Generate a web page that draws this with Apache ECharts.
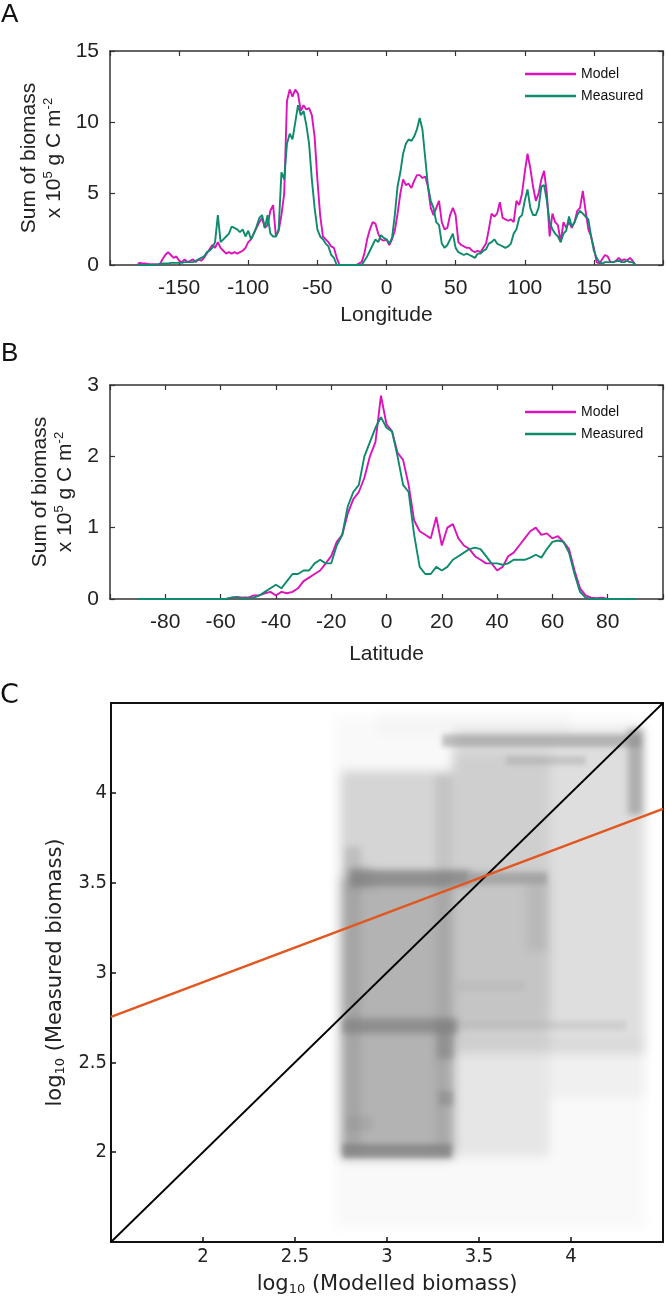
<!DOCTYPE html>
<html>
<head>
<meta charset="utf-8">
<script src="https://cdn.jsdelivr.net/npm/echarts@6/dist/echarts.min.js"></script>
<style>
html,body{margin:0;padding:0;background:#fff;}
#chart{width:666px;height:1299px;}
</style>
</head>
<body>
<div id="chart"></div>
<script>
// ---------- Panel A: longitude profile ----------
const lonA = [
 -180,-178,-176,-174,-172,-170,-168,-166,-164,-162,
 -160,-158,-156,-154,-152,-150,-148,-146,-144,-142,
 -140,-138,-136,-134,-132,-130,-128,-126,-124,-122,
 -120,-118,-116,-114,-112,-110,-108,-106,-104,-102,
 -100,-98,-96,-94,-92,-90,-88,-86,-84,-82,
 -80,-78,-76,-74,-72,-70,-68,-66,-64,-62,
 -60,-58,-56,-54,-52,-50,-48,-46,-44,-42,
 -40,-38,-36,-34,-32,-30,-28,-26,-24,-22,
 -20,-18,-16,-14,-12,-10,-8,-6,-4,-2,
 0,2,4,6,8,10,12,14,16,18,
 20,22,24,26,28,30,32,34,36,38,
 40,42,44,46,48,50,52,54,56,58,
 60,62,64,66,68,70,72,74,76,78,
 80,82,84,86,88,90,92,94,96,98,
 100,102,104,106,108,110,112,114,116,118,
 120,122,124,126,128,130,132,134,136,138,
 140,142,144,146,148,150,152,154,156,158,
 160,162,164,166,168,170,172,174,176,178,
 180];
const modelA = [
 0.1,0.15,0.1,0.1,0.05,0.05,0.05,0,0.05,0.4,
 0.7,0.9,0.7,0.5,0.6,0.3,0.2,0.4,0.2,0.3,
 0.4,0.2,0.4,0.3,0.5,0.8,1.1,1.4,1.2,1.6,
 1.2,1.0,0.8,0.9,0.8,0.9,0.8,0.9,1.0,1.2,
 1.6,1.8,2.2,2.6,3.0,3.3,2.6,2.8,3.8,4.2,
 2.0,2.4,3.5,5.0,11.5,12.3,11.8,12.3,12.0,10.8,
 11.2,10.9,11.0,10.5,9.0,6.0,3.5,2.0,1.8,1.6,
 1.3,1.2,0.5,0,0,0,0,0,0,0,
 0.1,0.2,0.8,1.8,2.5,3.0,2.9,2.2,1.8,1.7,
 1.8,1.4,1.8,2.4,3.6,5.0,6.0,5.6,5.7,5.4,
 5.9,6.3,6.3,6.1,6.2,5.5,4.0,3.5,4.0,4.5,
 3.0,2.5,2.6,3.5,4.0,3.5,1.6,1.4,1.3,1.2,
 1.2,1.0,0.9,1.0,0.9,1.2,1.5,2.5,3.6,3.4,
 3.6,4.4,3.3,3.2,3.1,3.2,3.0,4.5,4.2,5.0,
 6.5,7.8,6.8,5.5,4.5,5.0,6.0,6.6,5.0,2.0,
 3.6,3.0,2.8,1.6,3.0,2.6,3.0,2.6,3.0,3.8,
 4.0,5.2,3.8,2.5,2.0,1.2,0.2,0.1,0.4,0.7,
 0.6,0.2,0.2,0.3,0.5,0.3,0.4,0.3,0.5,0.3,
 0];
const measuredA = [
 0,0,0,0,0,0,0,0.05,0.05,0.1,
 0.1,0.1,0.15,0.15,0.15,0.15,0.15,0.2,0.2,0.2,
 0.2,0.3,0.4,0.5,0.6,0.9,1.0,1.2,1.6,3.5,
 1.6,1.8,2.0,2.2,2.7,2.6,2.5,2.3,2.5,2.0,
 2.4,1.8,2.2,2.7,3.3,3.5,2.6,3.5,2.2,2.0,
 2.0,2.5,6.5,6.0,8.5,9.2,8.8,10.0,11.2,10.5,
 10.8,9.8,8.5,6.0,4.0,2.5,2.0,1.8,1.5,1.3,
 0.7,0.5,0,0,0,0,0,0,0,0,
 0,0,0.3,0.6,1.0,1.4,1.8,1.6,2.1,1.9,
 1.8,1.5,1.9,3.5,5.5,6.5,7.8,8.5,8.8,8.7,
 9.0,9.5,10.3,9.5,7.5,5.5,4.5,4.0,3.0,2.8,
 1.5,1.2,1.4,1.8,2.2,1.2,0.9,0.8,0.7,0.8,
 0.7,0.6,0.5,0.8,0.8,1.0,1.1,1.5,1.6,1.8,
 1.5,1.4,1.3,1.2,1.3,1.5,2.2,2.5,3.3,3.5,
 4.5,5.3,4.0,3.5,3.5,4.0,5.5,5.6,4.5,3.0,
 2.5,2.2,2.0,1.6,2.2,2.4,3.4,2.7,3.0,3.5,
 3.8,3.6,3.4,3.2,2.0,1.0,0.5,0.2,0.1,0.2,
 0.2,0.2,0.2,0.25,0.3,0.2,0.2,0.3,0.2,0.2,
 0];

// ---------- Panel B: latitude profile ----------
const latB = [
 -90,-88,-86,-84,-82,-80,-78,-76,-74,-72,
 -70,-68,-66,-64,-62,-60,-58,-56,-54,-52,
 -50,-48,-46,-44,-42,-40,-38,-36,-34,-32,
 -30,-28,-26,-24,-22,-20,-18,-16,-14,-12,
 -10,-8,-6,-4,-2,0,2,4,6,8,
 10,12,14,16,18,20,22,24,26,28,
 30,32,34,36,38,40,42,44,46,48,
 50,52,54,56,58,60,62,64,66,68,
 70,72,74,76,78,80,82,84,86,88,
 90];
const modelB = [
 0,0,0,0,0,0,0,0,0,0,
 0,0,0,0,0,0,0,0.02,0.03,0.02,
 0.02,0.05,0.05,0.08,0.1,0.05,0.1,0.08,0.1,0.15,
 0.25,0.3,0.35,0.4,0.5,0.6,0.8,0.9,1.2,1.4,
 1.5,1.7,2.0,2.2,2.85,2.45,2.35,2.05,1.95,1.6,
 1.1,0.95,0.9,0.85,1.15,0.75,1.0,1.05,0.85,0.75,
 0.7,0.6,0.55,0.5,0.5,0.4,0.45,0.6,0.65,0.75,
 0.85,0.95,1.0,0.9,0.92,0.85,0.88,0.8,0.7,0.4,
 0.15,0.05,0.02,0.01,0.02,0,0,0,0,0,
 0];
const measuredB = [
 0,0,0,0,0,0,0,0,0,0,
 0,0,0,0,0,0,0,0.02,0.02,0.01,
 0.01,0.02,0.05,0.1,0.15,0.2,0.15,0.25,0.35,0.35,
 0.4,0.4,0.5,0.55,0.5,0.5,0.75,0.9,1.3,1.5,
 1.6,2.0,2.2,2.4,2.55,2.4,2.35,2.0,1.6,1.5,
 0.9,0.45,0.35,0.35,0.45,0.4,0.45,0.55,0.6,0.65,
 0.7,0.72,0.7,0.6,0.5,0.5,0.48,0.5,0.55,0.55,
 0.55,0.58,0.62,0.58,0.7,0.8,0.82,0.8,0.65,0.35,
 0.1,0.02,0,0,0,0,0,0,0,0,
 0];

// ---------- Panel C: modelled vs measured (log10) ----------
// density patches of the grey point cloud: [x0, x1, y0, y1, opacity]
const cloudPatches = [
 [2.72, 4.40, 1.58, 4.42, 0.05],
 [2.95, 4.00, 4.32, 4.45, 0.03],
 [3.36, 4.40, 2.55, 4.35, 0.22],
 [3.88, 4.40, 2.30, 2.60, 0.07],
 [3.36, 3.88, 1.98, 4.22, 0.16],
 [2.75, 3.36, 1.97, 4.12, 0.30],
 [2.75, 3.36, 1.97, 3.53, 0.40],
 [3.36, 3.88, 2.72, 3.55, 0.12],
 [2.80, 3.45, 3.48, 3.57, 0.75],
 [3.45, 3.87, 3.49, 3.56, 0.45],
 [2.80, 2.92, 3.47, 3.59, 0.30],
 [2.76, 3.38, 2.66, 2.745, 0.70],
 [3.38, 4.30, 2.68, 2.73, 0.15],
 [2.76, 3.35, 1.97, 2.045, 0.75],
 [3.30, 4.38, 4.255, 4.325, 0.45],
 [3.65, 4.08, 4.155, 4.205, 0.25],
 [4.31, 4.39, 3.88, 4.36, 0.50],
 [3.26, 3.36, 2.00, 4.10, 0.18],
 [3.27, 3.36, 2.52, 2.72, 0.55],
 [3.28, 3.36, 2.26, 2.34, 0.45],
 [2.77, 2.86, 2.00, 3.70, 0.25],
 [3.76, 3.87, 3.12, 3.50, 0.18],
 [3.38, 3.75, 2.90, 2.95, 0.10],
 [2.78, 2.92, 2.12, 2.20, 0.20]
];
const identityLine = [[1.5, 1.5], [4.5, 4.5]];
const fitLine = [[1.5, 2.753], [4.5, 3.911]];

// ---------- styling ----------
const MAGENTA = '#dc12bb';
const GREEN = '#0e8a6c';
const AXIS = '#333333';
const SANS = "'Liberation Sans',Arial,sans-serif";
const DJ = "'DejaVu Sans',Verdana,sans-serif";
const DJC = "'DejaVu Sans Condensed','DejaVu Sans',sans-serif";

const chart = echarts.init(document.getElementById('chart'), null, {renderer: 'canvas'});

const gridA = {left: 110, right: 2, top: 51, height: 214};
const gridB = {left: 110, right: 2, top: 385, height: 214};
const gridC = {left: 111, right: 3, top: 703, height: 539};

function boxAxisLine(w, c) { return {show: true, onZero: false, lineStyle: {color: c, width: w}}; }

const yTitleAB = '{a|Sum of biomass}\n{a|x 10}{s|5}{a| g C m}{s|-2}';
const yTitleRich = {
  a: {fontFamily: SANS, fontSize: 21, lineHeight: 25, color: '#222'},
  s: {fontFamily: SANS, fontSize: 13, color: '#222', padding: [0, 0, 12, 0]}
};

function profileXAxis(grid, min, max, interval, name, hideVals, gap) {
  return [
    {
      gridIndex: grid, type: 'value', min: min, max: max, interval: interval, position: 'bottom',
      axisLine: boxAxisLine(1.5, AXIS),
      axisTick: {show: true, inside: true, length: 5, lineStyle: {color: AXIS, width: 1.2}},
      axisLabel: {fontFamily: SANS, fontSize: 21, color: '#222', margin: 13,
        formatter: v => (hideVals.indexOf(v) >= 0 ? '' : String(v))},
      splitLine: {show: false},
      name: name, nameLocation: 'middle', nameGap: gap,
      nameTextStyle: {fontFamily: SANS, fontSize: 21, color: '#222'}
    },
    {
      gridIndex: grid, type: 'value', min: min, max: max, interval: interval, position: 'top',
      axisLine: boxAxisLine(1.5, AXIS),
      axisTick: {show: true, inside: true, length: 5, lineStyle: {color: AXIS, width: 1.2}},
      axisLabel: {show: false}, splitLine: {show: false}
    }
  ];
}
function profileYAxis(grid, max, interval) {
  return [
    {
      gridIndex: grid, type: 'value', min: 0, max: max, interval: interval, position: 'left',
      axisLine: boxAxisLine(1.5, AXIS),
      axisTick: {show: true, inside: true, length: 5, lineStyle: {color: AXIS, width: 1.2}},
      axisLabel: {fontFamily: SANS, fontSize: 21, color: '#222', margin: 11},
      splitLine: {show: false},
      name: yTitleAB, nameLocation: 'middle', nameGap: 32, nameRotate: 90,
      nameTextStyle: {rich: yTitleRich}
    },
    {
      gridIndex: grid, type: 'value', min: 0, max: max, interval: interval, position: 'right',
      axisLine: boxAxisLine(1.5, AXIS),
      axisTick: {show: true, inside: true, length: 5, lineStyle: {color: AXIS, width: 1.2}},
      axisLabel: {show: false}, splitLine: {show: false}
    }
  ];
}

const cTickFmt = v => ((v < 1.9 || v > 4.1) ? '' : String(v));
const cNameRich = {
  a: {fontFamily: DJ, fontSize: 21, color: '#222'},
  s: {fontFamily: DJ, fontSize: 13, color: '#222', padding: [10, 0, 0, 0]}
};

const xAxes = [].concat(
  profileXAxis(0, -200, 200, 50, 'Longitude', [-200, 200], 40),
  profileXAxis(1, -100, 100, 20, 'Latitude', [-100, 100], 45),
  [
    {
      gridIndex: 2, type: 'value', min: 1.5, max: 4.5, interval: 0.5, position: 'bottom',
      axisLine: boxAxisLine(2, '#111'),
      axisTick: {show: true, inside: true, length: 5, lineStyle: {color: '#111', width: 1.5}},
      axisLabel: {fontFamily: DJC, fontSize: 20, color: '#222', margin: 5, formatter: cTickFmt},
      splitLine: {show: false},
      name: '{a|log}{s|10}{a| (Modelled biomass)}', nameLocation: 'middle', nameGap: 31,
      nameTextStyle: {rich: cNameRich}
    },
    {
      gridIndex: 2, type: 'value', min: 1.5, max: 4.5, position: 'top',
      axisLine: boxAxisLine(2, '#111'), axisTick: {show: false}, axisLabel: {show: false}, splitLine: {show: false}
    }
  ]
);
const yAxes = [].concat(
  profileYAxis(0, 15, 5),
  profileYAxis(1, 3, 1),
  [
    {
      gridIndex: 2, type: 'value', min: 1.5, max: 4.5, interval: 0.5, position: 'left',
      axisLine: boxAxisLine(2, '#111'),
      axisTick: {show: true, inside: true, length: 5, lineStyle: {color: '#111', width: 1.5}},
      axisLabel: {fontFamily: DJC, fontSize: 20, color: '#222', margin: 4, formatter: cTickFmt},
      splitLine: {show: false},
      name: '{a|log}{s|10}{a| (Measured biomass)}', nameLocation: 'middle', nameGap: 42, nameRotate: 90,
      nameTextStyle: {rich: cNameRich}
    },
    {
      gridIndex: 2, type: 'value', min: 1.5, max: 4.5, position: 'right',
      axisLine: boxAxisLine(2, '#111'), axisTick: {show: false}, axisLabel: {show: false}, splitLine: {show: false}
    }
  ]
);

function pairs(xs, ys) { return xs.map((x, i) => [x, ys[i]]); }
function lineSeries(name, color, xi, yi, data, z) {
  return {
    type: 'line', name: name, xAxisIndex: xi, yAxisIndex: yi, data: data,
    symbol: 'none', showSymbol: false, z: z,
    lineStyle: {color: color, width: 1.9}, itemStyle: {color: color}
  };
}

const legendCommon = {
  data: ['Model', 'Measured'], orient: 'vertical', left: 525, padding: 0,
  icon: 'rect', itemWidth: 51, itemHeight: 2.5, itemGap: 6,
  textStyle: {fontFamily: SANS, fontSize: 14, lineHeight: 16, color: '#111'}
};

// soft-edged patch: draw the shape off-canvas and show only its blurred shadow
const OFF = 3000;
function renderPatch(params, api) {
  const p0 = api.coord([api.value(0), api.value(3)]);
  const p1 = api.coord([api.value(1), api.value(2)]);
  const a = api.value(4);
  const w = p1[0] - p0[0], h = p1[1] - p0[1];
  const blur = Math.max(4, Math.min(10, Math.min(w, h) * 0.4));
  return {
    type: 'rect',
    shape: {x: p0[0] - OFF, y: p0[1], width: w, height: h},
    style: {
      fill: 'rgb(128,128,128)',
      shadowBlur: blur, shadowOffsetX: OFF, shadowOffsetY: 0,
      shadowColor: 'rgba(128,128,128,' + a + ')'
    }
  };
}

const option = {
  animation: false,
  backgroundColor: '#fff',
  grid: [gridA, gridB, gridC],
  xAxis: xAxes,
  yAxis: yAxes,
  legend: [
    Object.assign({}, legendCommon, {top: 66}),
    Object.assign({}, legendCommon, {top: 404})
  ],
  graphic: [
    {type: 'text', left: 1, top: 2, style: {text: 'A', font: '26px ' + SANS, fill: '#111'}},
    {type: 'text', left: 1, top: 341, style: {text: 'B', font: '26px ' + SANS, fill: '#111'}},
    {type: 'text', left: 0, top: 682, style: {text: 'C', font: '27px ' + DJ, fill: '#111'}}
  ],
  series: [
    lineSeries('Model', MAGENTA, 0, 0, pairs(lonA, modelA), 2),
    lineSeries('Measured', GREEN, 0, 0, pairs(lonA, measuredA), 3),
    lineSeries('Model', MAGENTA, 2, 2, pairs(latB, modelB), 2),
    lineSeries('Measured', GREEN, 2, 2, pairs(latB, measuredB), 3),
    {
      type: 'custom', xAxisIndex: 4, yAxisIndex: 4, data: cloudPatches, z: 1, silent: true,
      clip: false, encode: {x: [0, 1], y: [2, 3]}, renderItem: renderPatch
    },
    {
      type: 'line', xAxisIndex: 4, yAxisIndex: 4, data: identityLine, symbol: 'none', z: 3,
      lineStyle: {color: '#000', width: 1.8}
    },
    {
      type: 'line', xAxisIndex: 4, yAxisIndex: 4, data: fitLine, symbol: 'none', z: 4,
      lineStyle: {color: '#e2561f', width: 2.5}
    }
  ]
};
chart.setOption(option);
</script>
</body>
</html>
